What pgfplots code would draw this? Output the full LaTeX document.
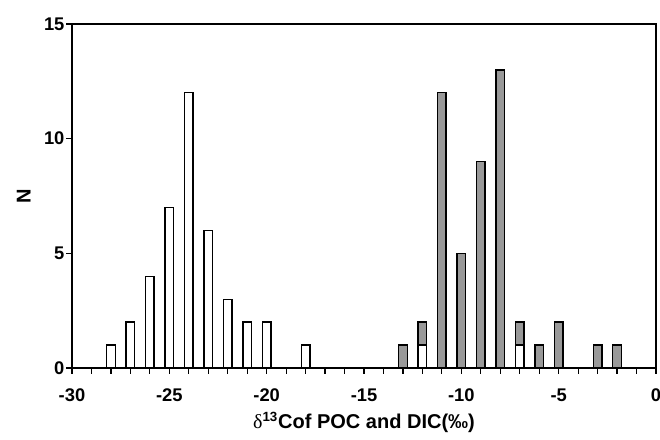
\documentclass[border=0pt]{standalone}
\usepackage{fontspec}
\setmainfont{Liberation Sans}
\newfontfamily\grfont{Liberation Serif}
\usepackage{pgfplots}
\pgfplotsset{compat=1.18}
\definecolor{dicgray}{HTML}{999999}

\begin{document}
\begin{tikzpicture}
\begin{axis}[
    scale only axis,
    width=350.4pt,
    height=206.4pt,
    xmin=-30, xmax=0,
    ymin=0, ymax=15,
    xtick={-30,-25,-20,-15,-10,-5,0},
    minor x tick num=4,
    ytick={0,5,10,15},
    tick pos=left,
    tick align=inside,
    major tick length=3.4pt,
    minor tick length=3.4pt,
    y tick style={xshift=-3.4pt},
    every tick/.style={black, line width=0.7pt},
    axis line style={line width=0.9pt},
    axis on top,
    /pgf/number format/assume math mode=true,
    tick label style={font=\fontsize{11}{12}\selectfont\bfseries},
    xticklabel style={yshift=-5.5pt},
    yticklabel style={xshift=-1pt},
    xlabel={{\grfont\mdseries δ}\textsuperscript{13}Cof POC and DIC(‰)},
    ylabel={N},
    label style={font=\fontsize{12}{14}\selectfont\bfseries},
    xlabel style={at={(axis description cs:0.5,0)}, anchor=center, yshift=-32.5pt},
    ylabel style={at={(axis description cs:0,0.5)}, anchor=center, yshift=29pt},
    ybar, bar width=0.44, bar shift=0pt,
]
% DIC (grey), totals incl. the POC part where they share a bin
\addplot[draw=black, line width=0.8pt, fill=dicgray] coordinates {
(-13,1) (-12,2) (-11,12) (-10,5) (-9,9) (-8,13) (-7,2) (-6,1) (-5,2) (-3,1) (-2,1)
};
% POC (white)
\addplot[draw=black, line width=0.8pt, fill=white] coordinates {
(-28,1) (-27,2) (-26,4) (-25,7) (-24,12) (-23,6) (-22,3) (-21,2) (-20,2) (-18,1)
(-12,1) (-7,1)
};
\end{axis}
\pgfresetboundingbox
\path[use as bounding box] (-43.2pt,-43.2pt) rectangle (352.8pt,220.8pt);
\end{tikzpicture}
\end{document}
